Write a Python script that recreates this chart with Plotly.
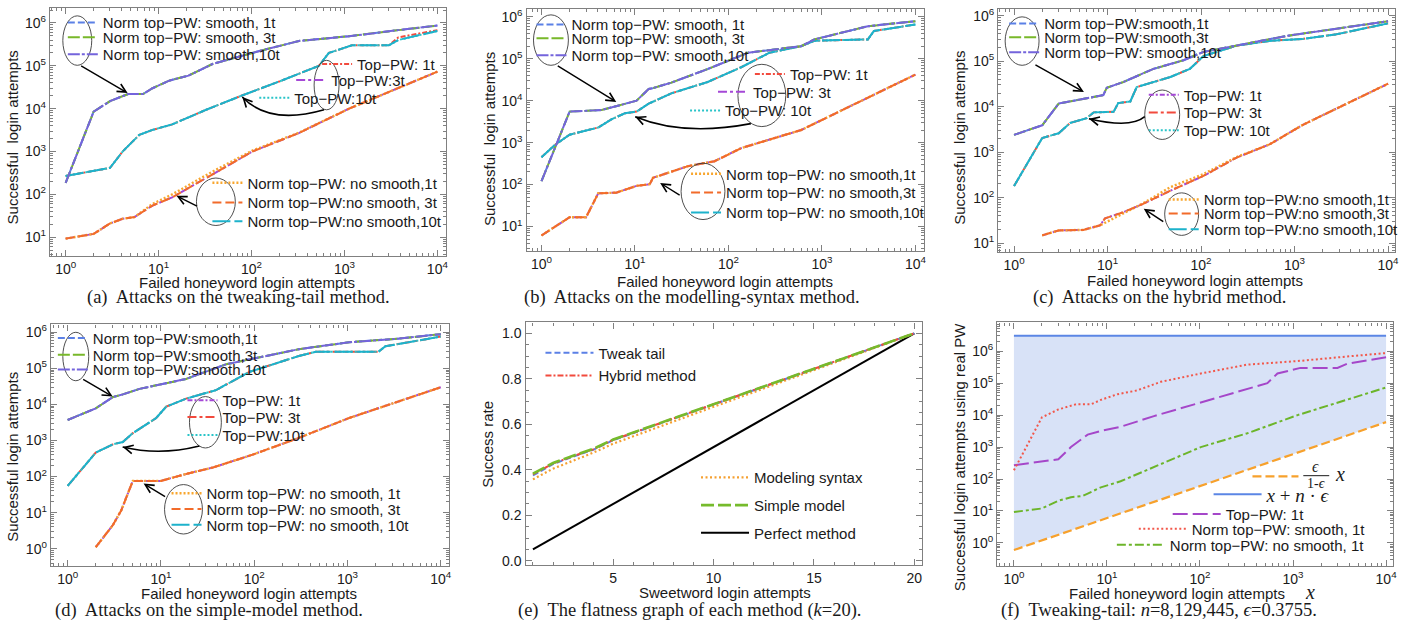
import plotly.graph_objects as go

W, H = 1417, 628
SANS = "Liberation Sans, Arial, sans-serif"
SERIF = "Liberation Serif, Times New Roman, serif"
TXT = "#1a1a1a"
FRAME = "#808080"

# ---------------- data ----------------
# (a) tweaking-tail
a_top_x = [1, 2, 3, 4.7, 6.8, 8.6, 13, 21, 38, 102, 323, 1120, 3800, 10000]
a_top_y = [187, 8500, 15000, 22000, 22000, 30000, 45000, 59000, 110000, 200000, 380000, 490000, 680000, 870000]
a_mid_x = [1, 3, 4.1, 6.2, 8.6, 14, 32, 73, 215, 530, 680, 1200, 3000, 3800, 10000]
a_mid_y = [270, 415, 1000, 2450, 3200, 4300, 9300, 19000, 46000, 100000, 200000, 300000, 300000, 400000, 650000]
a_mid_y_1t = [270, 415, 1000, 2450, 3200, 4300, 9300, 19000, 46000, 100000, 200000, 300000, 300000, 460000, 680000]
a_bot_x = [1, 2, 3, 4.1, 5.5, 8.6, 14, 38, 102, 323, 1120, 10000]
a_bot_y = [9.3, 12, 21, 27, 29.6, 55, 85, 295, 1000, 2700, 10000, 73000]
a_bot_y_1t = [9.3, 12, 21, 27, 29.6, 60, 100, 340, 1050, 2750, 10000, 73000]

# (b) modelling-syntax
b_top_x = [1, 2, 4.4, 6.3, 10.4, 14, 15.6, 24.5, 60, 162, 600, 830, 3100, 10000]
b_top_y = [120, 5500, 6000, 7500, 10000, 19000, 20000, 27000, 57000, 140000, 200000, 290000, 600000, 790000]
b_mid_x = [1, 1.4, 2, 4.05, 5.6, 7.8, 10.4, 14, 24.5, 60, 137, 275, 600, 830, 3100, 3600, 10000]
b_mid_y = [450, 890, 1550, 2300, 3600, 5000, 5500, 8500, 15000, 28000, 63000, 140000, 200000, 270000, 290000, 460000, 660000]
b_bot_x = [1, 2, 3, 4.05, 6.3, 10.4, 14.4, 15.6, 37, 71, 137, 310, 600, 10000]
b_bot_y = [6.1, 16.6, 16.6, 62, 64, 93, 102, 145, 275, 360, 740, 1290, 2000, 42000]

# (c) hybrid
c_top_x = [1, 2, 3, 5.5, 9, 9.8, 14.8, 31, 65, 106, 240, 820, 10000]
c_top_y = [2400, 3900, 11700, 15000, 18000, 26000, 35000, 68000, 105000, 160000, 220000, 360000, 760000]
c_mid_x = [1, 2, 3, 4, 6, 7.1, 11.6, 13, 17.5, 20.5, 47, 76, 106, 240, 540, 1230, 2800, 10000]
c_mid_y = [180, 2050, 2600, 4400, 5600, 7500, 7700, 12000, 13000, 27000, 45000, 68000, 130000, 220000, 280000, 310000, 390000, 680000]
c_bot_x = [2, 3, 5.5, 8.3, 9.4, 14.8, 24, 47, 106, 240, 540, 1230, 10000]
c_bot_y = [14.8, 19, 19.5, 24.5, 35, 48, 73, 142, 300, 760, 1480, 4000, 32000]
c_bot_y_1t = [14.8, 19, 19.5, 24.5, 28, 45, 75, 170, 330, 780, 1480, 4000, 32000]

# (d) simple-model
d_top_x = [1, 2, 3.05, 3.9, 5.9, 8.9, 18.6, 50, 300, 1040, 3600, 10000]
d_top_y = [3700, 7800, 16000, 19000, 27000, 34000, 51000, 130000, 340000, 530000, 670000, 890000]
d_mid_x = [1, 2, 3.05, 3.9, 5, 8.9, 11.4, 18.6, 39, 89, 300, 460, 2150, 2550, 10000]
d_mid_y = [55, 460, 780, 910, 1600, 4200, 8700, 14500, 25000, 80000, 220000, 290000, 290000, 410000, 760000]
d_bot_x = [2, 3.05, 3.75, 5, 10, 18.6, 36, 96, 300, 1040, 10000]
d_bot_y = [1.1, 4.5, 11.5, 76, 76, 118, 178, 405, 1180, 4200, 30000]

# (e) flatness, k = 20
e_x = list(range(1, 21))
e_tweak = [0.375, 0.425, 0.458, 0.488, 0.530, 0.562, 0.593, 0.625, 0.656, 0.688,
           0.719, 0.750, 0.781, 0.812, 0.844, 0.875, 0.906, 0.937, 0.969, 1.0]
e_hybrid = [0.380, 0.428, 0.460, 0.490, 0.532, 0.563, 0.594, 0.626, 0.657, 0.689,
            0.720, 0.751, 0.782, 0.813, 0.844, 0.875, 0.907, 0.938, 0.969, 1.0]
e_syntax = [0.358, 0.405, 0.440, 0.475, 0.515, 0.548, 0.580, 0.613, 0.645, 0.677,
            0.709, 0.741, 0.773, 0.806, 0.838, 0.870, 0.903, 0.935, 0.967, 1.0]
e_simple = [0.383, 0.430, 0.462, 0.492, 0.533, 0.564, 0.595, 0.626, 0.657, 0.689,
            0.720, 0.751, 0.782, 0.813, 0.844, 0.875, 0.907, 0.938, 0.969, 1.0]
e_perfect = [0.05, 0.10, 0.15, 0.20, 0.25, 0.30, 0.35, 0.40, 0.45, 0.50,
             0.55, 0.60, 0.65, 0.70, 0.75, 0.80, 0.85, 0.90, 0.95, 1.0]

# (f) bounds for tweaking-tail, n = 8,129,445, eps = 0.3755
f_bound_x = [1, 10, 100, 1000, 10000]
f_eps_line = [0.601, 6.01, 60.1, 601, 6013]
f_neps_line = [3052608, 3052617, 3052707, 3053607, 3062607]

LOG_TICKS = [1, 10, 100, 1000, 10000, 100000, 1000000]
LOG_TEXT = ["10<sup>%d</sup>" % i for i in range(7)]
X_TICKS = [1, 10, 100, 1000, 10000]
X_TEXT = ["10<sup>%d</sup>" % i for i in range(5)]

# ---------------- styles ----------------
C_BLUE = "#5b80e6"
C_GREEN = "#78b82a"
C_VIOLET = "#7464dc"
C_RED = "#f24a3d"
C_PURPLE = "#a548d6"
C_CYAN = "#29c4c8"
C_LORANGE = "#f8a62e"
C_ORANGE = "#f26b2a"
C_TEAL = "#1db2cb"

D_S1 = "7px,3px"
D_S3 = "12px,3px"
D_S10 = "12px,2px,3px,2px"
D_T1 = "5px,2px,2px,2px"
D_T3 = "9px,3px,3px,3px"
D_T10 = "2px,2px"
D_N1 = "2px,2px"
D_N3 = "9px,4px"
D_N10 = "18px,4px"

LEG_SIZE = 15

fig = go.Figure()

legend_ids = []


def new_legend(key_x, row_y, width=30, size=LEG_SIZE, family=SANS):
    idx = len(legend_ids) + 1
    lid = "legend" if idx == 1 else "legend%d" % idx
    legend_ids.append(lid)
    fig.update_layout({lid: dict(
        x=(key_x - 5) / W, y=1 - row_y / H, xanchor="left", yanchor="middle",
        bgcolor="rgba(0,0,0,0)", borderwidth=0, itemwidth=width,
        font=dict(family=family, size=size, color=TXT), tracegroupgap=0,
        itemclick=False, itemdoubleclick=False)})
    return lid


def axn(n, kind):
    return kind if n == 1 else "%s%d" % (kind, n)


def add_line(n, x, y, name, color, dash, key, width=2.0, kw=30, size=LEG_SIZE, family=SANS):
    lid = new_legend(key[0], key[1], kw, size, family)
    fig.add_trace(go.Scatter(
        x=x, y=y, mode="lines", name=name,
        line=dict(color=color, dash=dash, width=width),
        xaxis=axn(n, "x"), yaxis=axn(n, "y"), legend=lid, showlegend=True,
        hoverinfo="skip"))


# ---------------- panels (a)-(d) ----------------
attack_panels = [
    dict(n=1,
         top=(a_top_x, a_top_y), mid=(a_mid_x, a_mid_y), mid_red=(a_mid_x, a_mid_y_1t),
         bot=(a_bot_x, a_bot_y), bot_dot=(a_bot_x, a_bot_y_1t), purple_is_1t=False,
         smooth=["Norm top−PW: smooth, 1t", "Norm top−PW: smooth, 3t", "Norm top−PW: smooth,10t"],
         smooth_key=(68, [20, 35, 52]),
         top_pw=["Top−PW: 1t", "Top−PW:3t", "Top−PW:10t"],
         top_key=[(323, 62), (297, 78), (260, 96)],
         nosmooth=["Norm top−PW: no smooth,1t", "Norm top−PW:no smooth, 3t", "Norm top−PW:no smooth,10t"],
         nos_key=(213, [182, 202, 221])),
    dict(n=2,
         top=(b_top_x, b_top_y), mid=(b_mid_x, b_mid_y), mid_red=(b_mid_x, b_mid_y),
         bot=(b_bot_x, b_bot_y), bot_dot=(b_bot_x, b_bot_y), purple_is_1t=False,
         smooth=["Norm top−PW: smooth, 1t", "Norm top−PW: smooth, 3t", "Norm top−PW: smooth,10t"],
         smooth_key=(538, [22, 36, 53]),
         top_pw=["Top−PW: 1t", "Top−PW: 3t", "Top−PW: 10t"],
         top_key=[(757, 72), (720, 90), (692, 109)],
         nosmooth=["Norm top−PW: no smooth,1t", "Norm top−PW: no smooth,3t", "Norm top−PW: no smooth,10t"],
         nos_key=(693, [173, 192, 212])),
    dict(n=3,
         top=(c_top_x, c_top_y), mid=(c_mid_x, c_mid_y), mid_red=(c_mid_x, c_mid_y),
         bot=(c_bot_x, c_bot_y), bot_dot=(c_bot_x, c_bot_y_1t), purple_is_1t=True,
         smooth=["Norm top−PW:smooth,1t", "Norm top−PW:smooth,3t", "Norm top−PW: smooth,10t"],
         smooth_key=(1012, [21, 35, 50]),
         top_pw=["Top−PW: 1t", "Top−PW: 3t", "Top−PW: 10t"],
         top_key=[(1152, 93), (1152, 111), (1152, 129)],
         nosmooth=["Norm top−PW:no smooth,1t", "Norm top−PW:no smooth,3t", "Norm top−PW:no smooth,10t"],
         nos_key=(1172, [199, 213, 229])),
    dict(n=4,
         top=(d_top_x, d_top_y), mid=(d_mid_x, d_mid_y), mid_red=(d_mid_x, d_mid_y),
         bot=(d_bot_x, d_bot_y), bot_dot=(d_bot_x, d_bot_y), purple_is_1t=True,
         smooth=["Norm top−PW:smooth,1t", "Norm top−PW:smooth,3t", "Norm top−PW:smooth,10t"],
         smooth_key=(58, [339, 356, 371]),
         top_pw=["Top−PW: 1t", "Top−PW: 3t", "Top−PW:10t"],
         top_key=[(188, 402), (188, 419), (188, 437)],
         nosmooth=["Norm top−PW: no smooth, 1t", "Norm top−PW: no smooth, 3t", "Norm top−PW: no smooth, 10t"],
         nos_key=(172, [496, 512, 528])),
]

for p in attack_panels:
    n = p["n"]
    sk, srows = p["smooth_key"]
    nk, nrows = p["nos_key"]
    tk = p["top_key"]
    # Top-PW series: one of them is drawn in purple, the other in red
    if p["purple_is_1t"]:
        purple_name, purple_key = p["top_pw"][0], tk[0]
        red_name, red_key = p["top_pw"][1], tk[1]
        purple_dash, red_dash = D_T1, D_T3
    else:
        purple_name, purple_key = p["top_pw"][1], tk[1]
        red_name, red_key = p["top_pw"][0], tk[0]
        purple_dash, red_dash = D_T3, D_T1
    # middle curve
    add_line(n, *p["mid_red"], red_name, C_RED, red_dash, red_key)
    add_line(n, *p["mid"], p["top_pw"][2], C_CYAN, D_T10, tk[2])
    add_line(n, *p["mid"], p["nosmooth"][2], C_TEAL, D_N10, (nk, nrows[2]))
    # lower curve
    add_line(n, *p["bot"], purple_name, C_PURPLE, purple_dash, purple_key)
    add_line(n, *p["bot_dot"], p["nosmooth"][0], C_LORANGE, D_N1, (nk, nrows[0]), width=2.4)
    add_line(n, *p["bot"], p["nosmooth"][1], C_ORANGE, D_N3, (nk, nrows[1]))
    # upper curve
    add_line(n, *p["top"], p["smooth"][0], C_BLUE, D_S1, (sk, srows[0]))
    add_line(n, *p["top"], p["smooth"][1], C_GREEN, D_S3, (sk, srows[1]))
    add_line(n, *p["top"], p["smooth"][2], C_VIOLET, D_S10, (sk, srows[2]))

# ---------------- panel (e) ----------------
add_line(5, e_x, e_perfect, "Perfect method", "#000000", "solid", (703, 536), kw=48)
add_line(5, e_x, e_syntax, "Modeling syntax", "#f5a030", "2px,2.5px", (703, 480), kw=48, width=2.2)
add_line(5, e_x, e_tweak, "Tweak tail", C_BLUE, "6px,3px", (547, 354), kw=48)
add_line(5, e_x, e_hybrid, "Hybrid method", C_RED, "6px,2px,2px,2px", (547, 377), kw=48)
add_line(5, e_x, e_simple, "Simple model", "#76bb2c", "13px,4px", (703, 508), kw=48, width=2.6)

# ---------------- panel (f) ----------------
# shaded feasible region between the two bounds
fig.add_trace(go.Scatter(x=f_bound_x, y=f_eps_line, mode="lines", line=dict(width=0),
                         xaxis="x6", yaxis="y6", showlegend=False, hoverinfo="skip"))
fig.add_trace(go.Scatter(x=f_bound_x, y=f_neps_line, mode="lines", line=dict(width=0),
                         fill="tonexty", fillcolor="#d8e2f7",
                         xaxis="x6", yaxis="y6", showlegend=False, hoverinfo="skip"))
add_line(6, f_bound_x, f_neps_line, "<i>x</i> + <i>n</i> · <i>ϵ</i>", "#5b86e5", "solid",
         (1217, 497), kw=48, size=19, family=SERIF)
add_line(6, f_bound_x, f_eps_line, "", "#f7a12c", "9px,4px", (1256, 479), kw=46, width=2.2)
add_line(6, a_bot_x, a_bot_y, "Norm top−PW: no smooth, 1t", "#6cb52a", "9px,3px,3px,3px", (1120, 548), kw=48)
add_line(6, a_mid_x, a_mid_y, "Top−PW: 1t", "#a547c9", "15px,5px", (1176, 517), kw=48)
add_line(6, a_top_x, a_top_y, "Norm top−PW: smooth, 1t", "#f2574a", "2px,2.5px", (1142, 532), kw=48)

# ---------------- axes ----------------
frames = {
    1: (50, 447, 5, 256), 2: (528, 927, 6, 251), 3: (1001, 1399, 6, 252),
    4: (51, 450, 325, 569), 5: (527, 925, 323, 568), 6: (1000, 1397, 323, 569),
}
xranges = {1: [-0.17, 4.09], 2: [-0.16, 4.096], 3: [-0.17, 4.075], 4: [-0.18, 4.085],
           5: [0.63, 20.4], 6: [-0.18, 4.075]}
yranges = {1: [0.56, 6.35], 2: [0.41, 6.19], 3: [0.80, 6.15], 4: [-0.47, 6.22],
           5: [-0.017, 1.048], 6: [-0.71, 6.9]}

common = dict(showline=True, linecolor=FRAME, linewidth=1.3, mirror="ticks", ticks="inside",
              ticklen=6, tickwidth=1.2, tickcolor=FRAME, showgrid=False, zeroline=False,
              tickfont=dict(family=SANS, size=14, color=TXT))

for n, (l, r, t, b) in frames.items():
    xa = dict(common, domain=[l / W, r / W], anchor=axn(n, "y"), range=xranges[n])
    ya = dict(common, domain=[1 - b / H, 1 - t / H], anchor=axn(n, "x"), range=yranges[n])
    if n == 5:
        xa.update(tickvals=[5, 10, 15, 20],
                  minor=dict(ticks="inside", ticklen=3, tickcolor=FRAME, dtick=1, showgrid=False))
        ya.update(dtick=0.2, tick0=0, tickformat=".1f",
                  minor=dict(ticks="inside", ticklen=3, tickcolor=FRAME, dtick=0.05, showgrid=False))
    else:
        xa.update(type="log", tickvals=X_TICKS, ticktext=X_TEXT,
                  minor=dict(ticks="inside", ticklen=3, tickcolor=FRAME, dtick="D1", showgrid=False))
        ya.update(type="log", tickvals=LOG_TICKS, ticktext=LOG_TEXT,
                  minor=dict(ticks="inside", ticklen=3, tickcolor=FRAME, dtick="D1", showgrid=False))
    fig.update_layout({("xaxis" if n == 1 else "xaxis%d" % n): xa,
                       ("yaxis" if n == 1 else "yaxis%d" % n): ya})

# ---------------- texts, ellipses and arrows ----------------
shapes = []
annotations = []


def label(x, y, text, size, family=SANS, angle=0):
    annotations.append(dict(x=x / W, y=1 - y / H, xref="paper", yref="paper", text=text,
                            showarrow=False, xanchor="center", yanchor="middle", textangle=angle,
                            font=dict(family=family, size=size, color=TXT)))


def ellipse(x0, x1, y0, y1):
    shapes.append(dict(type="circle", xref="paper", yref="paper",
                       x0=x0 / W, x1=x1 / W, y0=1 - y1 / H, y1=1 - y0 / H,
                       line=dict(color="#3a3a3a", width=0.9)))


def arrow(tail, head):
    annotations.append(dict(x=head[0] / W, y=1 - head[1] / H, xref="paper", yref="paper",
                            ax=tail[0] - head[0], ay=tail[1] - head[1], axref="pixel", ayref="pixel",
                            text="", showarrow=True, arrowhead=5, arrowsize=1.2,
                            arrowwidth=1.4, arrowcolor="#000000"))


def curved_arrow(start, ctrl, head):
    shapes.append(dict(type="path", xref="paper", yref="paper",
                       path="M %f,%f Q %f,%f %f,%f" % (start[0] / W, 1 - start[1] / H,
                                                     ctrl[0] / W, 1 - ctrl[1] / H,
                                                     head[0] / W, 1 - head[1] / H),
                       line=dict(color="#000000", width=1.6)))
    dx, dy = ctrl[0] - head[0], ctrl[1] - head[1]
    norm = (dx * dx + dy * dy) ** 0.5
    arrow((head[0] + 6 * dx / norm, head[1] + 6 * dy / norm), head)


# axis titles
XT = "Failed honeyword login attempts"
YT = "Successful  login attempts"
for cx, cy, txt in [(248, 283, XT), (727, 282, XT), (1198, 281, XT), (250, 597, XT),
                    (727, 596, "Sweetword login attempts"), (1180, 597, XT)]:
    label(cx, cy, txt, 15)
label(1314, 596, "<i>x</i>", 20, SERIF)
for cx, cy, txt in [(13, 136, YT), (491, 138, YT), (962, 136, YT),
                    (13, 459, "Successful login attempts"), (488, 446, "Success rate"),
                    (963, 459, "Successful login attempts using real PW")]:
    label(cx, cy, txt, 15, SANS, angle=-90)

# (a)
ellipse(63, 92, 13, 63); ellipse(315, 340, 58, 108); ellipse(197, 236, 177, 225)
arrow((80, 63), (128, 91)); arrow((199, 206), (177, 195))
curved_arrow((325, 108), (270, 124), (243, 95))
# (b)
ellipse(535, 570, 12, 63); ellipse(740, 788, 62, 125); ellipse(683, 727, 162, 219)
arrow((558, 63), (618, 100)); arrow((683, 195), (662, 182))
curved_arrow((753, 122), (685, 135), (637, 115))
# (c)
ellipse(1008, 1042, 14, 63); ellipse(1148, 1183, 88, 138); ellipse(1168, 1202, 192, 235)
arrow((1037, 62), (1087, 90)); arrow((1168, 222), (1147, 208))
curved_arrow((1148, 115), (1134, 127), (1092, 117))
# (d)
ellipse(63, 89, 333, 382); ellipse(190, 222, 398, 450); ellipse(165, 203, 487, 537)
arrow((82, 380), (113, 398)); arrow((167, 500), (144, 486))
curved_arrow((200, 448), (160, 458), (123, 449))

# fraction label of the lower bound in (f)
label(1319, 469, "<i>ϵ</i>", 16, SERIF)
label(1320, 486, "1-<i>ϵ</i>", 14, SERIF)
shapes.append(dict(type="line", xref="paper", yref="paper", x0=1307 / W, x1=1333 / W,
                   y0=1 - 478 / H, y1=1 - 478 / H, line=dict(color=TXT, width=1)))
label(1344, 476, "<i>x</i>", 20, SERIF)

# captions
captions = [
    (239, 298, "(a)  Attacks on the tweaking-tail method."),
    (694, 298, "(b)  Attacks on the modelling-syntax method."),
    (1163, 298, "(c)  Attacks on the hybrid method."),
    (210, 614, "(d)  Attacks on the simple-model method."),
    (692, 614, "(e)  The flatness graph of each method (<i>k</i>=20)."),
    (1162, 614, "(f)  Tweaking-tail: <i>n</i>=8,129,445, <i>ϵ</i>=0.3755."),
]
for cx, cy, txt in captions:
    label(cx, cy, txt, 18.5, SERIF)

fig.update_layout(
    width=W, height=H, margin=dict(l=0, r=0, t=0, b=0),
    paper_bgcolor="white", plot_bgcolor="white",
    shapes=shapes, annotations=annotations,
    font=dict(family=SANS, color=TXT),
)

fig.write_html("out.html")
